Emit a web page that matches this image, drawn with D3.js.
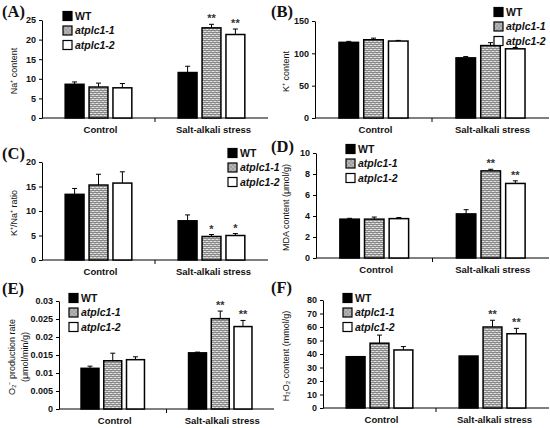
<!DOCTYPE html>
<html>
<head>
<meta charset="utf-8">
<script src="https://cdn.jsdelivr.net/npm/d3@7"></script>
<style>
  body { margin: 0; background: #fff; }
  svg { display: block; }
  text { font-family: "Liberation Sans", Arial, sans-serif; fill: #111; }
</style>
</head>
<body>
<svg id="chart" width="550" height="428"></svg>
<script>
// categorias e linhagens
const groups = ["Control", "Salt-alkali stress"];
const lines  = ["WT", "atplc1-1", "atplc1-2"];

// (A) Na+
const naMean  = [[8.6, 7.9, 7.7], [11.6, 23.0, 21.3]];
const naErr   = [[0.6, 1.0, 1.1], [1.6, 0.9, 1.4]];
const naStars = [["", "", ""], ["", "**", "**"]];
const naTicks = [0, 5, 10, 15, 20, 25];

// (B) K+
const kMean  = [[117, 121, 119], [93, 112, 107]];
const kErr   = [[1.5, 2.5, 1.0], [2.0, 4.5, 2.0]];
const kStars = [["", "", ""], ["", "", ""]];
const kTicks = [0, 50, 100, 150];

// (C) K+/Na+
const ratioMean  = [[13.4, 15.3, 15.7], [8.0, 4.8, 5.0]];
const ratioErr   = [[1.2, 2.2, 2.3], [1.2, 0.4, 0.4]];
const ratioStars = [["", "", ""], ["", "*", "*"]];
const ratioTicks = [0, 5, 10, 15, 20];

// (D) MDA
const mdaMean  = [[3.7, 3.7, 3.75], [4.2, 8.3, 7.1]];
const mdaErr   = [[0.08, 0.2, 0.1], [0.4, 0.15, 0.25]];
const mdaStars = [["", "", ""], ["", "**", "**"]];
const mdaTicks = [0, 2, 4, 6, 8, 10];

// (E) O2- production
const o2Mean  = [[0.0113, 0.0134, 0.0137], [0.0156, 0.0251, 0.0229]];
const o2Err   = [[0.0006, 0.0021, 0.0008], [0.0002, 0.0021, 0.0017]];
const o2Stars = [["", "", ""], ["", "**", "**"]];
const o2Ticks = [0, 0.005, 0.01, 0.015, 0.02, 0.025, 0.03];

// (F) H2O2
const h2o2Mean  = [[38, 48, 43], [38.5, 60, 55]];
const h2o2Err   = [[0, 6, 2.5], [0, 5, 4]];
const h2o2Stars = [["", "", ""], ["", "**", "**"]];
const h2o2Ticks = [0, 10, 20, 30, 40, 50, 60, 70, 80];

const svg = d3.select("#chart");

// padrão "tijolinho" da atplc1-1
const defs = svg.append("defs");
const pat = defs.append("pattern")
  .attr("id", "brick")
  .attr("patternUnits", "userSpaceOnUse")
  .attr("width", 4).attr("height", 4);
pat.append("rect").attr("width", 4).attr("height", 4).attr("fill", "#e4e4e4");
pat.append("path")
  .attr("d", "M0,0.5H4M0,2.5H4M1,0V2M3,2V4")
  .attr("stroke", "#808080").attr("stroke-width", 0.9);

const fills = ["#000", "url(#brick)", "#fff"];

const panels = [
  { tag: "(A)", tagX: 2, tagY: 17, mean: naMean, err: naErr, stars: naStars, ticks: naTicks,
    x0: 42, x1: 268, yTop: 20, yBot: 118, ylab: ["Na⁺ content"], ylabX: 14,
    legX: 63, legY: 16 },
  { tag: "(B)", tagX: 271, tagY: 17, mean: kMean, err: kErr, stars: kStars, ticks: kTicks,
    x0: 315, x1: 549, yTop: 21, yBot: 118, ylab: ["K⁺ content"], ylabX: 286,
    legX: 494, legY: 12 },
  { tag: "(C)", tagX: 2, tagY: 159, mean: ratioMean, err: ratioErr, stars: ratioStars, ticks: ratioTicks,
    x0: 42, x1: 268, yTop: 162, yBot: 260, ylab: ["K⁺/Na⁺ ratio"], ylabX: 14,
    legX: 228, legY: 153 },
  { tag: "(D)", tagX: 271, tagY: 152, mean: mdaMean, err: mdaErr, stars: mdaStars, ticks: mdaTicks,
    x0: 316, x1: 549, yTop: 153, yBot: 258, ylab: ["MDA content (μmol/g)"], ylabX: 286,
    legX: 346, legY: 149 },
  { tag: "(E)", tagX: 2, tagY: 294, mean: o2Mean, err: o2Err, stars: o2Stars, ticks: o2Ticks,
    x0: 59, x1: 274, yTop: 301, yBot: 409, ylab: ["O₂⁻ production rate", "(μmol/min/g)"], ylabX: 12,
    legX: 69, legY: 298 },
  { tag: "(F)", tagX: 271, tagY: 293, mean: h2o2Mean, err: h2o2Err, stars: h2o2Stars, ticks: h2o2Ticks,
    x0: 323, x1: 549, yTop: 300, yBot: 408, ylab: ["H₂O₂ content (mmol/g)"], ylabX: 286,
    legX: 343, legY: 298 }
];

panels.forEach(function(p) {
  const g = svg.append("g");

  const y = d3.scaleLinear()
    .domain(d3.extent(p.ticks))
    .range([p.yBot, p.yTop]);

  const xGroup = d3.scaleBand()
    .domain(groups)
    .range([p.x0, p.x1]);

  // largura do conjunto de barras ~ 59% da banda
  const gw = xGroup.bandwidth() * 0.59;
  const xLine = d3.scaleBand()
    .domain(lines)
    .range([-gw / 2, gw / 2])
    .paddingInner(0.21);

  // eixo y
  const yAxis = g.append("g")
    .attr("transform", `translate(${p.x0},0)`)
    .call(d3.axisLeft(y).tickValues(p.ticks).tickSize(3).tickSizeOuter(0)
      .tickFormat(d => String(+d.toFixed(3))));
  yAxis.selectAll("text")
    .attr("x", -6)
    .style("font-size", "9px").style("font-weight", "bold");
  yAxis.selectAll("line, path").attr("stroke", "#000");

  // eixo x: linha + tick no meio
  g.append("line")
    .attr("x1", p.x0).attr("x2", p.x1)
    .attr("y1", p.yBot).attr("y2", p.yBot)
    .attr("stroke", "#000");
  g.append("line")
    .attr("x1", xGroup(groups[1])).attr("x2", xGroup(groups[1]))
    .attr("y1", p.yBot).attr("y2", p.yBot + 4)
    .attr("stroke", "#000");

  g.selectAll(".cat")
    .data(groups)
    .enter().append("text")
    .attr("x", d => xGroup(d) + xGroup.bandwidth() / 2 + 2)
    .attr("y", p.yBot + 15)
    .attr("text-anchor", "middle")
    .style("font-size", "9.5px").style("font-weight", "bold")
    .text(d => d);

  // barras
  const rows = [];
  groups.forEach(function(gr, i) {
    lines.forEach(function(ln, j) {
      rows.push({ gr: gr, ln: ln, j: j, v: p.mean[i][j], e: p.err[i][j], s: p.stars[i][j] });
    });
  });

  const bx = d => xGroup(d.gr) + xGroup.bandwidth() / 2 + xLine(d.ln);
  const cx = d => bx(d) + xLine.bandwidth() / 2;

  // barras de erro (só para cima)
  const eb = rows.filter(d => d.e > 0);
  g.selectAll(".err")
    .data(eb)
    .enter().append("path")
    .attr("d", d => `M${cx(d)},${y(d.v)}V${y(d.v + d.e)}M${cx(d) - 2.5},${y(d.v + d.e)}H${cx(d) + 2.5}`)
    .attr("stroke", "#000").attr("stroke-width", 1).attr("fill", "none");

  g.selectAll(".bar")
    .data(rows)
    .enter().append("rect")
    .attr("x", d => bx(d))
    .attr("width", xLine.bandwidth())
    .attr("y", d => y(d.v))
    .attr("height", d => y(0) - y(d.v))
    .attr("fill", d => fills[d.j])
    .attr("stroke", "#000")
    .attr("stroke-width", 1.5);

  g.selectAll(".star")
    .data(rows.filter(d => d.s))
    .enter().append("text")
    .attr("x", d => cx(d))
    .attr("y", d => y(d.v + d.e) - 2)
    .attr("text-anchor", "middle")
    .style("font-size", "11px").style("font-weight", "bold").style("fill", "#333")
    .text(d => d.s);

  // rótulo do eixo y
  const cy = (p.yTop + p.yBot) / 2 + 2;
  p.ylab.forEach(function(t, k) {
    g.append("text")
      .attr("transform", `translate(${p.ylabX + k * 13},${cy}) rotate(-90)`)
      .attr("text-anchor", "middle")
      .attr("dy", "0.35em")
      .style("font-size", "9px")
      .text(t);
  });

  // letra do painel
  g.append("text")
    .attr("x", p.tagX).attr("y", p.tagY)
    .style("font-family", "'Liberation Serif', 'Times New Roman', serif")
    .style("font-size", "16.5px").style("font-weight", "bold")
    .text(p.tag);

  // legenda
  const leg = g.selectAll(".leg")
    .data(lines)
    .enter().append("g")
    .attr("transform", (d, i) => `translate(${p.legX},${p.legY + i * 14.5})`);
  leg.append("rect")
    .attr("x", 0).attr("y", -4.5)
    .attr("width", 9).attr("height", 9)
    .attr("fill", (d, i) => fills[i])
    .attr("stroke", "#000").attr("stroke-width", 1.2);
  leg.append("text")
    .attr("x", 12).attr("dy", "0.35em")
    .style("font-size", "10.5px").style("font-weight", "bold")
    .style("font-style", (d, i) => i ? "italic" : "normal")
    .text(d => d);
});
</script>
</body>
</html>
